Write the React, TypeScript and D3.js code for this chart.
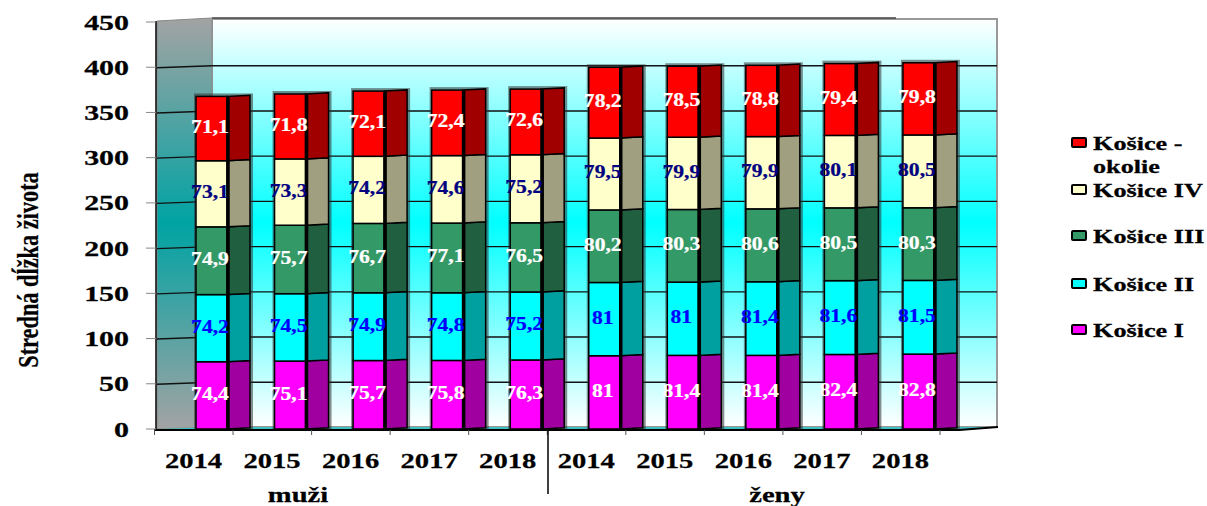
import * as d3 from 'd3'

const years = ['2014', '2015', '2016', '2017', '2018', '2014', '2015', '2016', '2017', '2018']
const yTicks = [0, 50, 100, 150, 200, 250, 300, 350, 400, 450]

const kosice1 = [74.4, 75.1, 75.7, 75.8, 76.3, 81, 81.4, 81.4, 82.4, 82.8]
const kosice2 = [74.2, 74.5, 74.9, 74.8, 75.2, 81, 81, 81.4, 81.6, 81.5]
const kosice3 = [74.9, 75.7, 76.7, 77.1, 76.5, 80.2, 80.3, 80.6, 80.5, 80.3]
const kosice4 = [73.1, 73.3, 74.2, 74.6, 75.2, 79.5, 79.9, 79.9, 80.1, 80.5]
const okolie = [71.1, 71.8, 72.1, 72.4, 72.6, 78.2, 78.5, 78.8, 79.4, 79.8]

const seriesKeys = ['k1', 'k2', 'k3', 'k4', 'ok']
const seriesValues = [kosice1, kosice2, kosice3, kosice4, okolie]
const frontColors = ['#ff00ff', '#00ffff', '#339966', '#ffffcc', '#ff0000']
const sideColors = ['#a000a0', '#00a0a0', '#206040', '#a0a080', '#a00000']
const labelColors = ['#ffffff', '#0000ff', '#ffffff', '#000080', '#ffffff']

const rows = years.map((_, i) => {
  const row: any = { i }
  seriesKeys.forEach((k, s) => { row[k] = seriesValues[s][i] })
  return row
})
const stacked = d3.stack().keys(seriesKeys)(rows)

const y = d3.scaleLinear().domain([0, 450]).range([429, 22])
const x = d3.scaleBand().domain(years.map((_, i) => String(i))).range([154.5, 940])

const barOffset = 41.5
const frontW = 31
const sideW = 23
const rise = 1.2
const wallL = 157
const wallR = 212
const backR = 997
const serif = '"Liberation Serif", serif'
const fmt = (v: number) => String(v).replace('.', ',')

function Txt({ x, y, size, sx = 1.3, anchor = 'middle', fill = '#000', rotate = 0, children }: any) {
  return (
    <text
      transform={`translate(${x},${y}) rotate(${rotate}) scale(${sx},1)`}
      fontFamily={serif}
      fontWeight="bold"
      fontSize={size}
      textAnchor={anchor}
      fill={fill}
      stroke={fill}
      strokeWidth={0.25}
    >
      {children}
    </text>
  )
}

const legend = [
  { lines: ['Košice -', 'okolie'], color: frontColors[4], top: 150 },
  { lines: ['Košice IV'], color: frontColors[3], top: 197 },
  { lines: ['Košice III'], color: frontColors[2], top: 243 },
  { lines: ['Košice II'], color: frontColors[1], top: 291 },
  { lines: ['Košice I'], color: frontColors[0], top: 337 },
]

export default function App() {
  return (
    <svg width={1207} height={506} style={{ position: 'absolute', left: 0, top: 0 }}>
      <defs>
        <linearGradient id="back" x1="0" y1="0" x2="0" y2="1">
          <stop offset="0" stopColor="#ffffff" />
          <stop offset="0.5" stopColor="#00ffff" />
          <stop offset="1" stopColor="#ffffff" />
        </linearGradient>
        <linearGradient id="wall" x1="0" y1="0" x2="0" y2="1">
          <stop offset="0" stopColor="#a3a3a3" />
          <stop offset="0.5" stopColor="#00a3a3" />
          <stop offset="1" stopColor="#a3a3a3" />
        </linearGradient>
      </defs>

      {/* walls */}
      <rect x={wallR} y={19} width={backR - wallR} height={408} fill="url(#back)" stroke="#999" strokeWidth={2} />
      <line x1={wallR} x2={896} y1={18} y2={18} stroke="#444" strokeWidth={1.5} />
      <polygon points={`${wallL},21 ${wallR},18 ${wallR},427 ${wallL},429`} fill="url(#wall)" stroke="#888" strokeWidth={1} />
      <polygon points={`${wallL},429 ${wallR},427 ${backR},427 ${backR - 38},430`} fill="#40c0c0" />

      {/* grid */}
      {yTicks.slice(1, -1).map(t => (
        <g key={t} stroke="#111" strokeWidth={1.4}>
          <line x1={wallL} x2={wallR} y1={y(t) + 0.5} y2={y(t) - 1.5} />
          <line x1={wallR} x2={backR} y1={y(t) - 1.5} y2={y(t) - 1.5} />
        </g>
      ))}

      {/* axes */}
      <line x1={156} x2={156} y1={21} y2={430} stroke="#000" strokeWidth={1.5} />
      <polyline points={`154,430 959,430 998,427`} fill="none" stroke="#000" strokeWidth={2} />
      {yTicks.map(t => (
        <g key={t}>
          <line x1={146} x2={156} y1={y(t)} y2={y(t)} stroke="#888" strokeWidth={1} />
          <Txt x={129} y={y(t) + 7.5} size={22} anchor="end" sx={1.36}>{t}</Txt>
        </g>
      ))}
      {d3.range(11).map(i => {
        const tx = x.range()[0] + i * x.step()
        return <line key={i} x1={tx} x2={tx} y1={430} y2={435} stroke="#555" strokeWidth={1} />
      })}
      <line x1={548} x2={548} y1={430} y2={494} stroke="#000" strokeWidth={1.5} />

      {/* bar shadows */}
      {years.map((_, i) => {
        const x0 = x(String(i))! + barOffset
        const top = y(stacked[4][i][1])
        return <rect key={i} x={x0 - 2} y={top - 3} width={frontW + sideW + 5} height={429 - top + 3} fill="#333" opacity={0.55} />
      })}

      {/* bars */}
      {stacked.map((layer, s) =>
        layer.map((d, i) => {
          const x0 = x(String(i))! + barOffset
          const x1 = x0 + frontW
          const x2 = x1 + sideW
          const y0 = y(d[0])
          const y1 = y(d[1])
          return (
            <g key={`${s}-${i}`}>
              <polygon
                points={`${x1},${y1} ${x2},${y1 - rise} ${x2},${y0 - rise} ${x1},${y0}`}
                fill={sideColors[s]}
                stroke="#000"
                strokeWidth={1.5}
              />
              <rect x={x0} y={y1} width={frontW} height={y0 - y1} fill={frontColors[s]} stroke="#000" strokeWidth={1.5} />
              <line x1={x1 + 1} x2={x1 + 1} y1={y1} y2={y0} stroke="#000" strokeWidth={3.5} />
            </g>
          )
        })
      )}
      {stacked.map((layer, s) =>
        layer.map((d, i) => (
          <Txt
            key={`${s}-${i}`}
            x={x(String(i))! + barOffset + frontW / 2 - 1.5}
            y={(y(d[0]) + y(d[1])) / 2 + 4.5}
            size={18}
            sx={1.2}
            fill={labelColors[s]}
          >
            {fmt(seriesValues[s][i])}
          </Txt>
        ))
      )}

      {/* category labels */}
      {years.map((yr, i) => (
        <Txt key={i} x={x(String(i))! + 39} y={468} size={22}>{yr}</Txt>
      ))}
      <Txt x={298} y={502} size={22}>muži</Txt>
      <Txt x={777} y={502} size={22}>ženy</Txt>
      <Txt x={38} y={270} size={29} rotate={-90} sx={0.77}>Stredná dĺžka života</Txt>

      {/* legend */}
      {legend.map(l => (
        <g key={l.lines[0]}>
          <rect x={1072} y={l.top - 12} width={14} height={9} rx={1} fill={l.color} stroke="#000" strokeWidth={2} />
          {l.lines.map((t, n) => (
            <Txt key={t} x={1093} y={l.top + n * 23} size={19} anchor="start" sx={1.38}>{t}</Txt>
          ))}
        </g>
      ))}
    </svg>
  )
}
